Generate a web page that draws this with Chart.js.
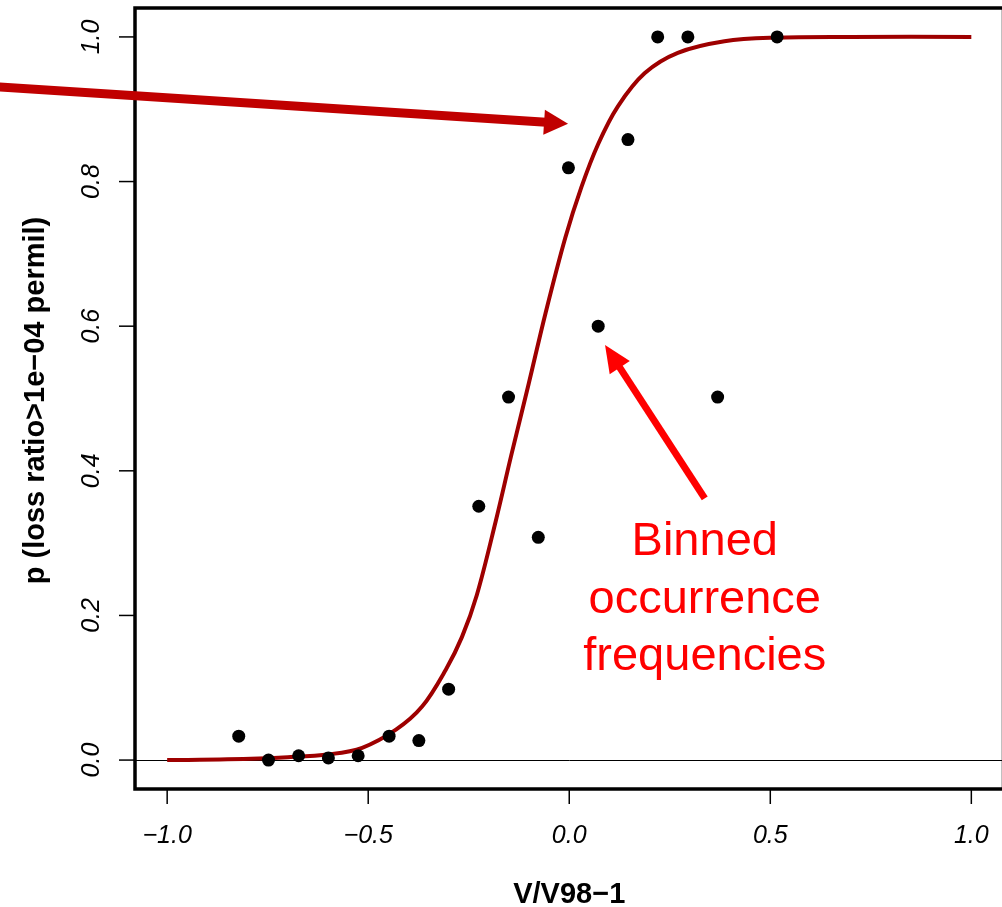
<!DOCTYPE html>
<html>
<head>
<meta charset="utf-8">
<script src="https://cdn.jsdelivr.net/npm/chart.js@4"></script>
<style>
  html, body { margin: 0; padding: 0; overflow: hidden; background: #fff; }
  #wrap { width: 1010px; height: 907px; }
</style>
</head>
<body>
<div id="wrap"><canvas id="c" width="1010" height="907"></canvas></div>
<script>
// fitted curve
const curveX = [-1.0, -0.85, -0.70, -0.597, -0.515, -0.431, -0.366, -0.307, -0.267, -0.230, -0.183, -0.144,
                -0.101, -0.059, -0.010, 0.030, 0.072, 0.121, 0.188, 0.270, 0.386, 0.510, 0.7, 1.0];
const curveP = [0.0, 0.001, 0.004, 0.008, 0.017, 0.042, 0.074, 0.125, 0.170, 0.228, 0.330, 0.422,
                0.520, 0.618, 0.722, 0.792, 0.852, 0.904, 0.950, 0.978, 0.994, 0.999, 1.0, 1.0];

// binned occurrence frequencies
const binX = [-0.822, -0.748, -0.673, -0.599, -0.525, -0.448, -0.374, -0.300, -0.225, -0.151,
              -0.077, -0.002, 0.072, 0.146, 0.220, 0.295, 0.369, 0.517];
const binP = [0.033, 0.0, 0.006, 0.003, 0.006, 0.033, 0.027, 0.098, 0.351, 0.502,
              0.308, 0.819, 0.600, 0.858, 1.0, 1.0, 0.502, 1.0];

const xTicks = [-1.0, -0.5, 0.0, 0.5, 1.0];
const xTickLabels = ['\u22121.0', '\u22120.5', '0.0', '0.5', '1.0'];
const yTicks = [0.0, 0.2, 0.4, 0.6, 0.8, 1.0];
const yTickLabels = ['0.0', '0.2', '0.4', '0.6', '0.8', '1.0'];

const xTitle = 'V/V98\u22121';
const yTitle = 'p (loss ratio>1e\u221204 permil)';
const noteLines = ['Binned', 'occurrence', 'frequencies'];

const FONT = '"Liberation Sans", Arial, Helvetica, sans-serif';

function arrow(ctx, x1, y1, x2, y2, w, headLen, headHalf, color) {
  const dx = x2 - x1, dy = y2 - y1, len = Math.hypot(dx, dy);
  const ux = dx / len, uy = dy / len;
  const bx = x2 - ux * headLen, by = y2 - uy * headLen;
  ctx.save();
  ctx.strokeStyle = color; ctx.fillStyle = color;
  ctx.lineWidth = w; ctx.lineCap = 'butt';
  ctx.beginPath(); ctx.moveTo(x1, y1); ctx.lineTo(bx + ux * 2, by + uy * 2); ctx.stroke();
  ctx.beginPath();
  ctx.moveTo(x2, y2);
  ctx.lineTo(bx - uy * headHalf, by + ux * headHalf);
  ctx.lineTo(bx + uy * headHalf, by - ux * headHalf);
  ctx.closePath(); ctx.fill();
  ctx.restore();
}

const frame = {
  id: 'frame',
  beforeDatasetsDraw(chart) {
    const { ctx, chartArea: a, scales: { y } } = chart;
    ctx.save();
    // zero line
    ctx.strokeStyle = '#000'; ctx.lineWidth = 1;
    const y0 = Math.round(y.getPixelForValue(0)) + 0.5;
    ctx.beginPath(); ctx.moveTo(a.left, y0); ctx.lineTo(a.right, y0); ctx.stroke();
    ctx.restore();
  },
  afterDatasetsDraw(chart) {
    const { ctx, chartArea: a, scales: { x, y } } = chart;
    ctx.save();
    // box
    ctx.strokeStyle = '#000'; ctx.lineWidth = 3.5;
    ctx.strokeRect(a.left, a.top, a.right - a.left, a.bottom - a.top);

    // ticks
    ctx.lineWidth = 1.5;
    ctx.fillStyle = '#000';
    ctx.font = 'italic 25px ' + FONT;
    xTicks.forEach((v, i) => {
      const px = x.getPixelForValue(v);
      ctx.beginPath(); ctx.moveTo(px, a.bottom); ctx.lineTo(px, a.bottom + 15); ctx.stroke();
      ctx.textAlign = 'center'; ctx.textBaseline = 'alphabetic';
      ctx.fillText(xTickLabels[i], px, 843);
    });
    yTicks.forEach((v, i) => {
      const py = y.getPixelForValue(v);
      ctx.beginPath(); ctx.moveTo(a.left, py); ctx.lineTo(a.left - 16, py); ctx.stroke();
      ctx.save();
      ctx.translate(99, py); ctx.rotate(-Math.PI / 2);
      ctx.textAlign = 'center'; ctx.textBaseline = 'alphabetic';
      ctx.fillText(yTickLabels[i], 0, 0);
      ctx.restore();
    });

    // axis titles
    ctx.font = 'bold 29px ' + FONT;
    ctx.textAlign = 'center'; ctx.textBaseline = 'alphabetic';
    ctx.fillText(xTitle, x.getPixelForValue(0), 903);
    ctx.save();
    ctx.translate(44, (y.getPixelForValue(0) + y.getPixelForValue(1)) / 2 + 2);
    ctx.rotate(-Math.PI / 2);
    ctx.fillText(yTitle, 0, 0);
    ctx.restore();

    // annotations
    arrow(ctx, x.getPixelForValue(-1.42), y.getPixelForValue(0.931),
          x.getPixelForValue(-0.003), y.getPixelForValue(0.880), 9, 24, 12.5, '#c00000');
    arrow(ctx, x.getPixelForValue(0.337), y.getPixelForValue(0.362),
          x.getPixelForValue(0.089), y.getPixelForValue(0.574), 7, 27, 12, '#ff0000');

    ctx.fillStyle = '#ff0000';
    ctx.font = '47px ' + FONT;
    ctx.textAlign = 'center';
    const nx = x.getPixelForValue(0.337);
    const ny = [0.283, 0.204, 0.125];
    noteLines.forEach((t, i) => ctx.fillText(t, nx, y.getPixelForValue(ny[i])));
    ctx.restore();
  }
};

new Chart(document.getElementById('c'), {
  type: 'line',
  data: {
    datasets: [
      {
        label: 'fit',
        data: curveX.map((v, i) => ({ x: v, y: curveP[i] })),
        borderColor: '#9e0000',
        borderWidth: 4,
        pointRadius: 0,
        tension: 0.35,
        fill: false,
        order: 2
      },
      {
        label: 'binned',
        data: binX.map((v, i) => ({ x: v, y: binP[i] })),
        showLine: false,
        pointRadius: 6.5,
        pointBackgroundColor: '#000',
        pointBorderWidth: 0,
        order: 1
      }
    ]
  },
  options: {
    responsive: false,
    animation: false,
    devicePixelRatio: 1,
    layout: { padding: { left: 135, top: 8, right: 3, bottom: 118 } },
    plugins: { legend: { display: false }, tooltip: { enabled: false } },
    scales: {
      x: { type: 'linear', min: -1.08, max: 1.08, display: false },
      y: { type: 'linear', min: -0.04, max: 1.04, display: false }
    }
  },
  plugins: [frame]
});
</script>
</body>
</html>
